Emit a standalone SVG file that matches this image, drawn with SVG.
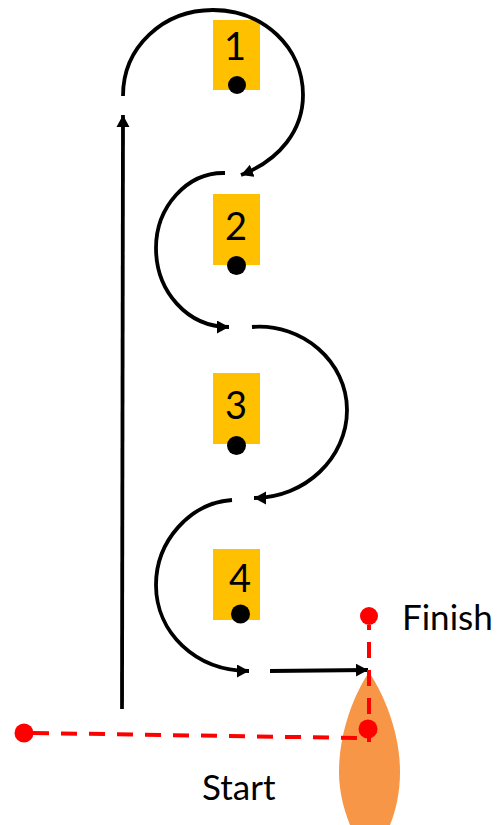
<svg xmlns="http://www.w3.org/2000/svg" width="498" height="825" viewBox="0 0 498 825">
<defs>
<style>
.mark{fill:#FFC000}
.dot{fill:#000}
.num{font-family:Lato,"Liberation Sans",sans-serif;font-size:38px;fill:#000;text-anchor:middle}
.lbl{font-family:Lato,"Liberation Sans",sans-serif;font-size:35px;fill:#000}
.path{fill:none;stroke:#000;stroke-width:3.8px;marker-end:url(#ah)}
.plain{fill:none;stroke:#000;stroke-width:3.8px}
.red{fill:none;stroke:#FF0000;stroke-width:4px;stroke-dasharray:16 12}
.rdot{fill:#FF0000}
</style>
<marker id="ah" markerUnits="userSpaceOnUse" markerWidth="14" markerHeight="14" refX="12" refY="6.500" orient="auto">
<path d="M0 0L12 6.500L0 13Z" fill="#000"/>
</marker>
</defs>
<path id="boat" d="M369 672C352 698 339 735 339 772C339 792 344 810 350 825L390 825C396 810 400 792 400 772C400 735 386 698 369 672Z" fill="#F79646"/>
<g id="mark1"><rect class="mark" x="213" y="20" width="47" height="70"/><text class="num" x="235" y="60">1</text><circle class="dot" cx="237" cy="85" r="9"/></g>
<g id="mark2"><rect class="mark" x="213" y="194" width="47" height="71"/><text class="num" x="236" y="240">2</text><circle class="dot" cx="236.500" cy="265.500" r="9.500"/></g>
<g id="mark3"><rect class="mark" x="213" y="373" width="47" height="71"/><text class="num" x="236" y="419">3</text><circle class="dot" cx="236.500" cy="445.500" r="9.500"/></g>
<g id="mark4"><rect class="mark" x="213" y="549" width="47" height="71"/><text class="num" x="240" y="592">4</text><circle class="dot" cx="240.500" cy="614" r="9.500"/></g>
<g id="connectors">
<path class="plain" d="M123 96C123 47 163 10 213 10C263 10 303 47 303 95"/>
<path class="path" d="M303 95C303 130 280 160 241 175"/>
<path class="path" d="M225 173C187 172 156 207 156 248C156 291 187 327 229 327"/>
<path class="path" d="M252 327C303 323 347 362 347 410C347 458 305 498 254 498"/>
<path class="path" d="M232 500C190 503 156 541 156 585C156 632 195 671 249 671"/>
<path class="path" d="M122 709L123 115"/>
<path class="path" d="M270 671L368 670"/>
<path class="red" d="M33 733L358 738"/>
<path class="red" stroke-dashoffset="11" d="M369 625L369 742"/>
</g>
<circle id="start-pin" class="rdot" cx="24" cy="733" r="9.500"/>
<circle id="boat-pin" class="rdot" cx="368" cy="729" r="9.500"/>
<circle id="finish-pin" class="rdot" cx="369" cy="616" r="9"/>
<text id="finish" class="lbl" x="402" y="630">Finish</text>
<text id="start" class="lbl" x="202" y="800">Start</text>
</svg>
